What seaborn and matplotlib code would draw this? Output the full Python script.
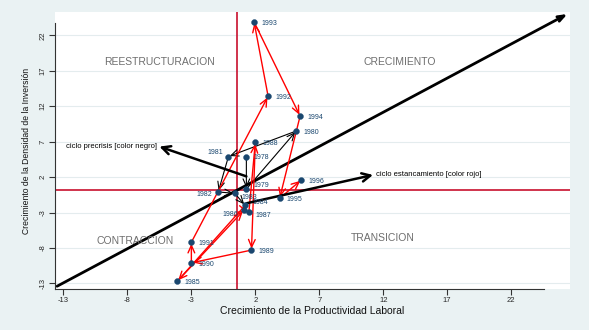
import matplotlib
matplotlib.use("Agg")
import matplotlib.pyplot as plt
import seaborn as sns
import pandas as pd

# ---- data ----
years = [1978, 1979, 1980, 1981, 1982, 1983, 1984, 1985, 1986, 1987,
         1988, 1989, 1990, 1991, 1992, 1993, 1994, 1995, 1996]
prod_growth = [1.3, 1.3, 5.2, -0.1, -0.9, 0.4, 1.2, -4.1, 1.1, 1.5,
               2.0, 1.7, -3.0, -3.0, 3.0, 1.9, 5.5, 3.9, 5.6]
inv_growth = [4.8, 0.3, 8.5, 4.9, -0.1, -0.3, -2.0, -12.7, -2.7, -2.9,
              6.9, -8.3, -10.1, -7.2, 13.4, 23.9, 10.6, -1.0, 1.6]
last_precrisis_year = 1984

mean_x = 0.6
mean_y = 0.2
diag_x = [-13.5, 26.4]
diag_y = [-13.4, 25.0]

precrisis_arrow_x = [1.3, -5.5]
precrisis_arrow_y = [2.1, 6.3]
stagnation_arrow_x = [1.3, 11.2]
stagnation_arrow_y = [-1.7, 2.3]

x_ticks = [-13, -8, -3, 2, 7, 12, 17, 22]
y_ticks = [-13, -8, -3, 2, 7, 12, 17, 22]

quadrant_labels = ["REESTRUCTURACION", "CRECIMIENTO", "CONTRACCION", "TRANSICION"]
quadrant_x = [-5.5, 13.3, -7.4, 12.0]
quadrant_y = [18.2, 18.2, -7.0, -6.6]

df = pd.DataFrame({"year": years, "x": prod_growth, "y": inv_growth})

# label placement tweaks (offset in points, alignment) for the dense cluster
label_pos = {
    1978: (5, 0, "left"),
    1979: (5, 2.5, "left"),
    1981: (-4, 3, "right"),
    1982: (-4, -2, "right"),
    1983: (5, -3, "left"),
    1984: (5, 2, "left"),
    1986: (-4, -3, "right"),
    1987: (5, -2.5, "left"),
}

# ---- style ----
sns.set_theme(style="white")
plt.rcParams["font.family"] = ["Liberation Sans", "DejaVu Sans"]

BG = "#EAF2F3"
NAVY = "#1A476F"
fig = plt.figure(figsize=(5.89, 3.30), dpi=100, facecolor=BG)
ax = fig.add_axes([0.0934, 0.124, 0.8743, 0.840])
ax.set_facecolor("white")

ax.set_xlim(-13.66, 26.6)
ax.set_ylim(-13.8, 25.3)

# grid
for t in y_ticks:
    ax.axhline(t, color="#E4ECEE", lw=0.8, zorder=0)

# mean lines
ax.axvline(mean_x, color="#C8102E", lw=1.2, zorder=1)
ax.axhline(mean_y, color="#C8102E", lw=1.2, zorder=1)

# 45-degree line
ax.annotate("", xy=(diag_x[1], diag_y[1]), xytext=(diag_x[0], diag_y[0]),
            arrowprops=dict(arrowstyle="->,head_length=0.4,head_width=0.15",
                            color="black", lw=2.0, shrinkA=0, shrinkB=0),
            zorder=2)

# path arrows
for i in range(len(years) - 1):
    col = "black" if years[i + 1] <= last_precrisis_year else "#FF0000"
    lw = 0.8 if col == "black" else 1.0
    ax.annotate("", xy=(prod_growth[i + 1], inv_growth[i + 1]),
                xytext=(prod_growth[i], inv_growth[i]),
                arrowprops=dict(arrowstyle="->,head_length=0.45,head_width=0.2",
                                color=col, lw=lw, shrinkA=0, shrinkB=1),
                zorder=3)

# thick cycle arrows
ax.annotate("", xy=(precrisis_arrow_x[1], precrisis_arrow_y[1]),
            xytext=(precrisis_arrow_x[0], precrisis_arrow_y[0]),
            arrowprops=dict(arrowstyle="->,head_length=0.5,head_width=0.25",
                            color="black", lw=1.8, shrinkA=0, shrinkB=0), zorder=4)
ax.annotate("", xy=(stagnation_arrow_x[1], stagnation_arrow_y[1]),
            xytext=(stagnation_arrow_x[0], stagnation_arrow_y[0]),
            arrowprops=dict(arrowstyle="->,head_length=0.5,head_width=0.25",
                            color="black", lw=1.8, shrinkA=0, shrinkB=0), zorder=4)
ax.text(precrisis_arrow_x[1] - 0.2, precrisis_arrow_y[1], "ciclo precrisis [color negro]",
        ha="right", va="center", fontsize=5.5, color="black", zorder=5)
ax.text(stagnation_arrow_x[1] + 0.2, stagnation_arrow_y[1], "ciclo estancamiento [color rojo]",
        ha="left", va="center", fontsize=5.5, color="black", zorder=5)

# points
sns.scatterplot(data=df, x="x", y="y", ax=ax, color=NAVY, s=18,
                edgecolor=NAVY, linewidth=0.3, zorder=6, legend=False)
for yr, xv, yv in zip(years, prod_growth, inv_growth):
    dx, dy, ha = label_pos.get(yr, (5, -1, "left"))
    ax.annotate(str(yr), (xv, yv), xytext=(dx, dy), textcoords="offset points",
                fontsize=5, color=NAVY, va="center", ha=ha, zorder=7)

# quadrant labels
for lab, qx, qy in zip(quadrant_labels, quadrant_x, quadrant_y):
    ax.text(qx, qy, lab, ha="center", va="center", fontsize=7.5,
            color="#6E6E6E", zorder=2)

# axes
ax.set_xticks(x_ticks)
ax.set_yticks(y_ticks)
ax.set_xticklabels([str(t) for t in x_ticks], fontsize=5.5)
ax.set_yticklabels([str(t) for t in y_ticks], fontsize=5.5, rotation=90, va="center")
ax.tick_params(axis="both", direction="out", length=4, width=0.8, color="#333333",
               pad=2, bottom=True, left=True)
for side in ["top", "right"]:
    ax.spines[side].set_visible(False)
for side in ["left", "bottom"]:
    ax.spines[side].set_color("#333333")
    ax.spines[side].set_linewidth(0.8)
ax.spines["bottom"].set_bounds(-13.66, 24.6)
ax.spines["left"].set_bounds(-13.8, 23.7)

ax.set_xlabel("Crecimiento de la Productividad Laboral", fontsize=7.5, labelpad=1, color="#111111")
ax.set_ylabel("Crecimiento de la Densidad de la Inversión", fontsize=6.2, labelpad=6, color="#111111")

fig.savefig("out.png", dpi=100, facecolor=BG)
